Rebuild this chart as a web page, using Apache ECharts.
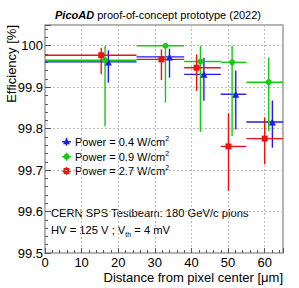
<!DOCTYPE html>
<html><head><meta charset="utf-8">
<script src="https://cdn.jsdelivr.net/npm/echarts@6/dist/echarts.min.js"></script>
<style>html,body{margin:0;padding:0;background:#fff}#c{width:299px;height:288px}</style>
</head><body><div id="c"></div>
<script>
// Bin edges (distance from pixel center, um)
var binLow  = [0, 25, 38, 48, 55];
var binHigh = [25, 38, 48, 55, 65];

// Power = 0.4 W/cm2 (blue)
var blueX    = [17.3, 34.0, 43.4, 52.1, 62.1];
var blueY    = [99.961, 99.973, 99.931, 99.883, 99.816];
var blueYHi  = [99.989, 99.993, 99.971, 99.940, 99.868];
var blueYLo  = [99.911, 99.923, 99.867, 99.798, 99.754];

// Power = 0.9 W/cm2 (green)
var greenX   = [16.4, 32.9, 42.45, 51.1, 61.1];
var greenY   = [99.965, 100.0, 99.962, 99.960, 99.912];
var greenYHi = [100.0, 100.0, 100.0, 100.0, 99.971];
var greenYLo = [99.806, 99.863, 99.792, 99.782, 99.794];

// Power = 2.7 W/cm2 (red)
var redX     = [15.35, 31.8, 41.4, 50.1, 60.0];
var redY     = [99.977, 99.967, 99.947, 99.757, 99.776];
var redYHi   = [99.995, 99.991, 99.979, 99.837, 99.827];
var redYLo   = [99.931, 99.917, 99.891, 99.650, 99.714];

var legendLabels = ['Power = 0.4 W/cm', 'Power = 0.9 W/cm', 'Power = 2.7 W/cm'];
var yTicks = [99.5, 99.6, 99.7, 99.8, 99.9, 100];
var xTicks = [0, 10, 20, 30, 40, 50, 60];

var FONT = '"Liberation Sans", Arial, sans-serif';
var BLUE = '#1c1cf0', GREEN = '#11cc11', RED = '#ee1111';

function errData(xs, ys, hi, lo) {
  return xs.map(function (x, i) { return [x, ys[i], binLow[i], binHigh[i], lo[i], hi[i]]; });
}
function ptData(xs, ys) { return xs.map(function (x, i) { return [x, ys[i]]; }); }

function errSeries(data, color) {
  return {
    type: 'custom', data: data, clip: true, z: 3,
    renderItem: function (params, api) {
      var x = api.value(0), y = api.value(1);
      var a = api.coord([api.value(2), y]), b = api.coord([api.value(3), y]);
      var c = api.coord([x, api.value(4)]), d = api.coord([x, api.value(5)]);
      var st = { stroke: color, lineWidth: 1.4 };
      return { type: 'group', children: [
        { type: 'line', shape: { x1: a[0], y1: a[1], x2: b[0], y2: b[1] }, style: st },
        { type: 'line', shape: { x1: c[0], y1: c[1], x2: d[0], y2: d[1] }, style: st }
      ]};
    }
  };
}
function ptSeries(data, color, symbol, size) {
  return { type: 'scatter', data: data, symbol: symbol, symbolSize: size, z: 4,
    itemStyle: { color: color, opacity: 1 }, silent: true };
}

var chart = echarts.init(document.getElementById('c'), null, { renderer: 'svg' });

function legendItem(y, color, shape, label) {
  var cx = 66.5;
  var mk;
  if (shape === 'rect') mk = { type: 'rect', shape: { x: cx - 3, y: y - 3, width: 6, height: 6 }, style: { fill: color } };
  else if (shape === 'circle') mk = { type: 'circle', shape: { cx: cx, cy: y, r: 3 }, style: { fill: color } };
  else mk = { type: 'polygon', shape: { points: [[cx, y - 3.5], [cx + 3.5, y + 2.5], [cx - 3.5, y + 2.5]] }, style: { fill: color } };
  return [
    { type: 'line', shape: { x1: cx - 4.5, y1: y, x2: cx + 4.5, y2: y }, style: { stroke: color, lineWidth: 1.4 } },
    { type: 'line', shape: { x1: cx, y1: y - 4, x2: cx, y2: y + 4 }, style: { stroke: color, lineWidth: 1.4 } },
    mk,
    { type: 'text', x: 75, y: y, style: { text: label + '{s|2}', font: '11px ' + FONT, fill: '#000',
      verticalAlign: 'middle', rich: { s: { fontSize: 7, verticalAlign: 'bottom', padding: [0, 0, 7, 0] } } } }
  ];
}

var graphics = [].concat(
  legendItem(141.7, BLUE, 'tri', legendLabels[0]),
  legendItem(156.7, GREEN, 'circle', legendLabels[1]),
  legendItem(171, RED, 'rect', legendLabels[2]),
  [
    { type: 'text', x: 51, y: 213, style: { text: 'CERN SPS Testbeam: 180 GeV/c pions', font: '11.2px ' + FONT, fill: '#000', verticalAlign: 'middle' } },
    { type: 'text', x: 51, y: 230, style: { text: 'HV = 125 V ; V{sub|th} = 4 mV', font: '11.2px ' + FONT, fill: '#000', verticalAlign: 'middle',
      rich: { sub: { fontSize: 7, padding: [8, 0, 0, 0] } } } },
    { type: 'text', x: 5, y: 25, rotation: Math.PI / 2, style: { text: 'Efficiency [%]', font: '13px ' + FONT, fill: '#000', align: 'right', verticalAlign: 'top' } },
    { type: 'text', x: 283, y: 277, style: { text: 'Distance from pixel center [\u03bcm]', font: '13px ' + FONT, fill: '#000', align: 'right', verticalAlign: 'middle' } },
    { type: 'text', x: 158, y: 15, style: { text: '{b|PicoAD} proof-of-concept prototype (2022)', font: '11px ' + FONT, fill: '#000', align: 'center', verticalAlign: 'middle',
      rich: { b: { fontWeight: 'bold', fontStyle: 'italic', fontSize: 11, fontFamily: FONT } } } }
  ]
);

chart.setOption({
  animation: false,
  backgroundColor: '#fff',
  grid: { left: 45, right: 16, top: 25, bottom: 35, show: true, borderColor: '#999', borderWidth: 1.5, backgroundColor: 'transparent' },
  xAxis: {
    type: 'value', min: 0, max: 65, interval: 10,
    axisLine: { show: false },
    axisTick: { inside: true, length: 5, lineStyle: { color: '#555' } },
    minorTick: { show: true, splitNumber: 5, length: 3, lineStyle: { color: '#555' } },
    splitLine: { show: true, lineStyle: { color: '#bbb', type: [2, 2], width: 1 } },
    axisLabel: { fontSize: 13, fontFamily: FONT, color: '#000', margin: 3, showMaxLabel: false,
      formatter: function (v) { return xTicks.indexOf(v) >= 0 ? String(v) : ''; } }
  },
  yAxis: {
    type: 'value', min: 99.5, max: 100.05, interval: 0.1,
    axisLine: { show: false },
    axisTick: { inside: true, length: 6, lineStyle: { color: '#555' } },
    minorTick: { show: true, splitNumber: 5, length: 3, lineStyle: { color: '#555' } },
    splitLine: { show: true, lineStyle: { color: '#bbb', type: [2, 2], width: 1 } },
    axisLabel: { fontSize: 13, fontFamily: FONT, color: '#000', margin: 2, showMaxLabel: false,
      formatter: function (v) {
        for (var i = 0; i < yTicks.length; i++) if (Math.abs(v - yTicks[i]) < 1e-6) return yTicks[i] === 100 ? '100' : yTicks[i].toFixed(1);
        return '';
      } }
  },
  series: [
    errSeries(errData(blueX, blueY, blueYHi, blueYLo), BLUE),
    errSeries(errData(greenX, greenY, greenYHi, greenYLo), GREEN),
    errSeries(errData(redX, redY, redYHi, redYLo), RED),
    ptSeries(ptData(blueX, blueY), BLUE, 'triangle', 7),
    ptSeries(ptData(greenX, greenY), GREEN, 'circle', 6),
    ptSeries(ptData(redX, redY), RED, 'rect', 6)
  ],
  graphic: graphics
});
</script></body></html>
